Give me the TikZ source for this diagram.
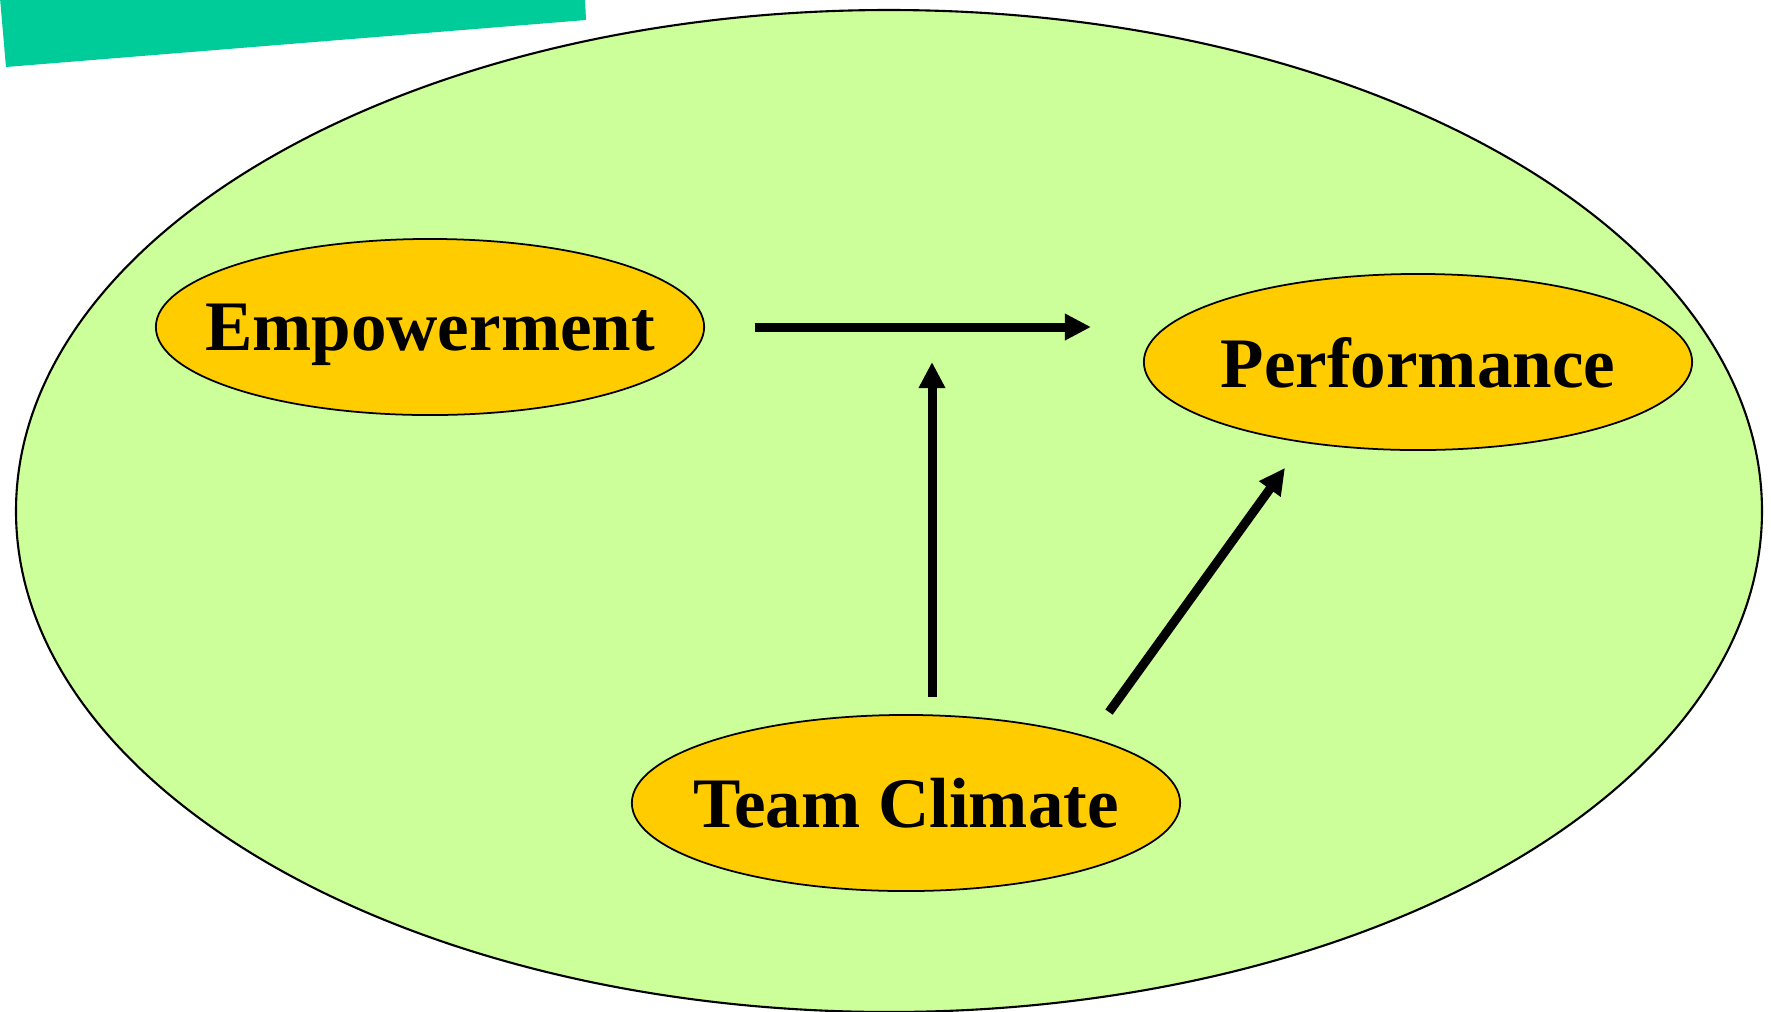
\documentclass[tikz,border=0pt]{standalone}
\usepackage{fontspec}
\setmainfont{Liberation Serif}
\usepackage{xcolor}
\usetikzlibrary{arrows.meta,calc,positioning,shapes.geometric}
\definecolor{bannerteal}{HTML}{00CC99}
\definecolor{fieldgreen}{HTML}{CCFF99}
\definecolor{vargold}{HTML}{FFCC00}
\tikzset{%
	var/.style   = {draw, ellipse, fill=vargold, line width=0.5pt, minimum width=5.48cm, minimum height=1.76cm, inner xsep=-0.6cm, inner ysep=0pt, text depth=0pt, font=\fontsize{20.2}{24}\selectfont\bfseries, text centered},
	arrow/.style = {line width=2.56pt, -{Triangle[length=7.4pt,width=7.1pt]}},
}
\begin{document}
\begin{tikzpicture}[x=0.01cm,y=-0.01cm]
		\useasboundingbox (0,0) rectangle (1771,1011);
		\fill[bannerteal] (0,-2) -- (6,67) -- (586,20) -- (585,-2) -- cycle;  % banner
		\draw[fill=fieldgreen,line width=0.6pt] (889,511) ellipse [x radius=873, y radius=501];  % field
		\node[var] (emp) at (430,327) {Empowerment};
		\node[var] (perf) at (1418,362) {Performance};
		\node[var] (clim) at (906,803) {Team Climate};
		\coordinate (link) at (932,327);
		\draw[arrow] ($(emp.west |- link)+(600,0)$) -- ($(link)+(159,0)$);
		\draw[arrow] ($(link |- clim.north)+(0,-17)$) -- ($(link)+(0,35)$);
		\draw[arrow] ($(clim.north)+(203,-2)$) -- ($(perf.south)+(-133,17)$);
		\end{tikzpicture}
\end{document}
